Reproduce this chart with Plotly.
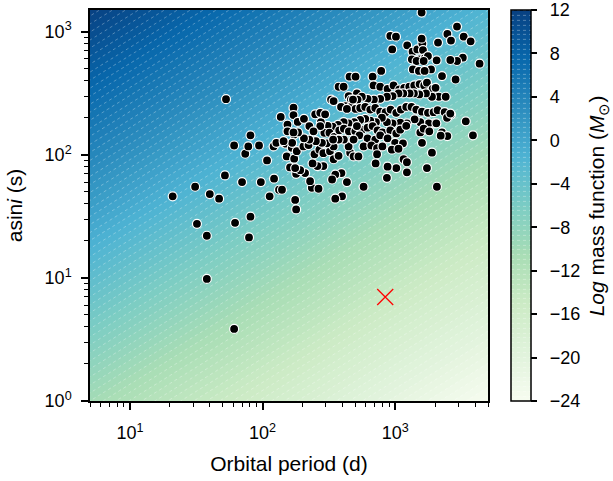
import numpy as np
import plotly.graph_objects as go
import plotly.colors as pc

# ---------------- data ----------------
period_d = [
    53, 21, 31, 40, 47, 52, 32, 38, 62, 81,
    79, 70, 97, 113, 133, 122, 108, 74, 78, 61,
    81, 94, 121, 127, 145, 137, 171, 171, 154, 154,
    173, 150, 166, 152, 173, 161, 179, 176, 179, 184,
    38, 61,
    1580, 917, 1012, 948, 1230, 1350, 1465, 1600, 1617, 1580,
    1333, 1525, 1664, 1764, 1448, 1637, 2050, 2100, 2470, 2630,
    2920, 3280, 3700, 3230, 2920, 2600, 4320, 2250, 2850, 1860,
    1357, 1507, 1664, 783, 675, 686, 514, 452, 502, 374,
    408, 445,
    770, 875, 971, 1072, 1168, 1275, 1390, 1525, 1652, 1733,
    1913, 2013, 2128, 2400, 1890, 1703, 1518, 1382, 1283, 1149,
    1058, 954, 865, 770, 690, 618, 560, 520, 463, 422,
    463, 502, 544, 594, 648, 707, 770, 845, 922, 1018,
    1103, 1210, 1326, 1440, 1590, 1764, 1945, 2085, 2357, 2630,
    2455, 1980, 1785, 1544, 1399, 1224, 1090, 954, 865, 793,
    715, 648, 594, 544, 490, 445, 408, 370, 337, 309,
    292, 319, 347, 378, 410, 447, 500, 560, 618, 675,
    735, 800, 917, 1018, 1090, 1210, 1544, 1637, 1806, 2040,
    2250, 2470, 2200, 3400, 3850, 2600,
    537, 618, 707, 770, 875, 998, 1143, 577, 660, 729,
    800, 942, 1058, 1590, 1890, 1155, 1224, 1733, 2060, 1224,
    1018, 875, 865, 711, 729, 577, 432, 393, 353, 334,
    397, 353, 235, 264, 287, 259, 238, 209, 192, 176,
    181, 203, 222, 246, 268, 287, 322, 343, 305, 280,
    252, 225, 205, 185, 171, 167, 144, 140, 228, 343,
    374, 457, 485, 528, 445, 485, 410, 374, 340, 514,
    205, 225, 249, 272, 275, 296, 272, 242, 328, 343,
    390, 432, 480,
]
asini_s = [
    283, 46, 55, 48, 44, 68, 27.5, 22, 28, 31.4,
    21.3, 60, 60, 46, 52, 64, 90, 102, 117, 119,
    144, 119, 117, 125, 125, 203, 241, 210, 176, 155,
    146, 123, 114, 97, 93, 79, 70, 43, 36, 185,
    9.8, 3.85,
    1430, 923, 910, 718, 775, 688, 718, 800, 709, 878,
    596, 596, 607, 634, 578, 578, 585, 815, 958, 846,
    1100, 911, 835, 615, 578, 589, 550, 436, 409, 494,
    494, 480, 480, 480, 431, 366, 315, 431, 431, 357,
    357, 300,
    357, 343, 366, 339, 350, 357, 366, 375, 366, 385,
    343, 350, 296, 296, 296, 315, 309, 315, 315, 315,
    315, 300, 296, 285, 281, 285, 296, 281, 281, 248,
    245, 236, 240, 245, 233, 240, 224, 222, 233, 219,
    233, 245, 245, 233, 224, 219, 222, 230, 222, 212,
    200, 180, 180, 184, 194, 180, 182, 180, 184, 200,
    184, 189, 196, 192, 184, 180, 184, 175, 169, 172,
    151, 151, 140, 158, 163, 155, 155, 160, 166, 171,
    158, 152, 158, 149, 160, 172, 152, 163, 155, 180,
    152, 142, 143, 187, 144, 216,
    144, 136, 133, 144, 136, 125, 124, 117, 119, 113,
    117, 110, 112, 125, 104, 92, 87, 78, 55, 72,
    78, 80, 65, 85, 101, 55, 60, 71, 69, 63,
    46, 44, 54, 53, 81, 81, 85, 71, 75, 78,
    107, 117, 120, 101, 110, 103, 107, 117, 124, 125,
    129, 133, 136, 152, 152, 125, 129, 52, 61, 92,
    98, 104, 97, 97, 117, 133, 133, 133, 133, 171,
    196, 171, 213, 219, 184, 213, 171, 155, 281, 273,
    245, 236, 281,
]
target_period_d = [840]
target_asini_s = [7.0]

cbar_tickvals = [-24, -20, -16, -12, -8, -4, 0, 4, 8, 12]
cbar_ticktext = ["\u2002" + t for t in
                 ["\u221224", "\u221220", "\u221216", "\u221212", "\u22128", "\u22124", "0", "4", "8", "12"]]

# ---------------- mass function background (natural log, M_sun) ----------------
G = 6.674e-11
c = 2.998e8
Msun = 1.989e30
day = 86400.0
grid_p = np.logspace(np.log10(4.0), np.log10(6000.0), 160)
grid_a = np.logspace(np.log10(0.8), np.log10(2000.0), 160)
PP, AA = np.meshgrid(grid_p, grid_a)
Z = np.log(4 * np.pi ** 2 * (c * AA) ** 3 / (G * (PP * day) ** 2) / Msun)

gnbu = pc.sequential.GnBu
cscale = [[i / (len(gnbu) - 1), col] for i, col in enumerate(gnbu)]

FONT = "Liberation Sans, Arial, Helvetica, sans-serif"
TICK_SIZE = 18
TITLE_SIZE = 21

fig = go.Figure()
fig.add_trace(go.Contour(
    x=grid_p, y=grid_a, z=Z,
    colorscale=cscale, zmin=-24, zmax=12, zauto=False,
    contours=dict(start=-24, end=12, size=0.45, coloring="fill", showlines=True),
    line=dict(color="rgba(255,255,255,0.45)", width=0.7, dash="dot"),
    hoverinfo="skip",
    colorbar=dict(
        x=1.059, xanchor="left", xpad=0, xref="paper",
        y=0.5, yanchor="middle", ypad=0, len=1, lenmode="fraction",
        thickness=20, thicknessmode="pixels",
        outlinewidth=1.5, outlinecolor="black",
        tickmode="array", tickvals=cbar_tickvals, ticktext=cbar_ticktext,
        ticks="outside", ticklen=6, tickwidth=1.5, tickcolor="black",
        tickfont=dict(family=FONT, size=TICK_SIZE, color="black"),
    ),
))

fig.add_trace(go.Scatter(
    x=period_d, y=asini_s, mode="markers",
    marker=dict(color="black", size=9, line=dict(color="white", width=1.2)),
    showlegend=False, hoverinfo="skip",
))
fig.add_trace(go.Scatter(
    x=target_period_d, y=target_asini_s, mode="markers",
    marker=dict(symbol="x-thin", size=16, color="red", line=dict(color="red", width=1.3)),
    showlegend=False, hoverinfo="skip",
))

def minor_vals(lo, hi):
    vals = []
    for e in range(lo, hi + 1):
        for m in range(2, 10):
            vals.append(m * 10 ** e)
    return vals

axis_common = dict(
    type="log", showgrid=False, zeroline=False,
    showline=True, linecolor="black", linewidth=1.5, mirror=True,
    ticks="outside", ticklen=7, tickwidth=1.5, tickcolor="black",
    tickfont=dict(family=FONT, size=TICK_SIZE, color="black"),
)

fig.update_xaxes(
    **axis_common,
    range=[np.log10(5), np.log10(5000)],
    tickmode="array", tickvals=[10, 100, 1000],
    ticktext=["10<sup>1</sup>", "10<sup>2</sup>", "10<sup>3</sup>"],
    ticklabelstandoff=8,
    minor=dict(tickmode="array", tickvals=minor_vals(0, 3), ticks="outside",
               ticklen=4, tickwidth=1, tickcolor="black"),
    title=dict(text="Orbital period (d)", font=dict(family=FONT, size=TITLE_SIZE, color="black"), standoff=14),
)
fig.update_yaxes(
    **axis_common,
    range=[0, np.log10(1500)],
    tickmode="array", tickvals=[1, 10, 100, 1000],
    ticktext=["10<sup>0</sup>", "10<sup>1</sup>", "10<sup>2</sup>", "10<sup>3</sup>"],
    ticklabelstandoff=6,
    minor=dict(tickmode="array", tickvals=minor_vals(0, 3), ticks="outside",
               ticklen=4, tickwidth=1, tickcolor="black"),
    title=dict(text="asin<i>i</i> (s)", font=dict(family=FONT, size=TITLE_SIZE, color="black"), standoff=16),
)

# colour bar label as a rotated annotation (placed to the right of the tick labels)
fig.add_annotation(
    text="<i>Log</i> mass function (<i>M</i><sub>\u2299</sub>)",
    xref="paper", yref="paper", x=1.276, y=0.5,
    xanchor="center", yanchor="middle", textangle=-90, showarrow=False,
    font=dict(family=FONT, size=TITLE_SIZE, color="black"),
)

fig.update_layout(
    width=613, height=481,
    margin=dict(l=90, r=125, t=10, b=80, autoexpand=False),
    paper_bgcolor="white", plot_bgcolor="white",
    showlegend=False,
    font=dict(family=FONT, color="black"),
)

fig.write_html("out.html", config={"displayModeBar": False},
               post_script="document.body.style.margin='0';")
